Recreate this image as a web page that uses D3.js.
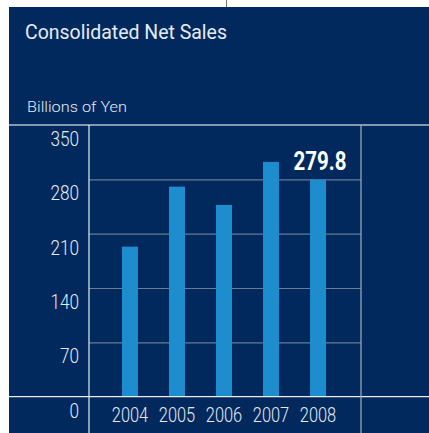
<!DOCTYPE html>
<html>
<head>
<meta charset="utf-8">
<script src="https://cdn.jsdelivr.net/npm/d3@7"></script>
<style>
  html, body { margin: 0; padding: 0; background: #ffffff; }
  svg { display: block; }
  text { font-family: Roboto, "Liberation Sans", sans-serif; font-weight: 300; }
</style>
</head>
<body>
<div id="chart"></div>
<script>
// Consolidated net sales, billions of yen
const years = ["2004", "2005", "2006", "2007", "2008"];
const sales = [193.3, 270.6, 247.0, 302.4, 279.8];
const yTicks = [0, 70, 140, 210, 280, 350];
const highlightIndex = 4;
const highlightLabel = "279.8";

const W = 429, H = 433;
const panel = { x: 9, y: 7 };
const plot = { left: 89, right: 361, top: 125, bottom: 396.7 };

const navy = "#01295e";
const barColor = "#1e8dce";
const textColor = "#e6ebf3";
const gridColor = "#6a7a93";

// squeeze text horizontally to give a condensed face
function condense(sel, factor) {
  sel.each(function () {
    const w = this.getComputedTextLength();
    d3.select(this).attr("textLength", w * factor).attr("lengthAdjust", "spacingAndGlyphs");
  });
}

const svg = d3.select("#chart").append("svg")
  .attr("width", W).attr("height", H);

// small marker line above panel
svg.append("line")
  .attr("x1", 226.5).attr("x2", 226.5).attr("y1", 0).attr("y2", panel.y)
  .attr("stroke", "#777").attr("stroke-width", 1);

svg.append("rect")
  .attr("x", panel.x).attr("y", panel.y)
  .attr("width", W - panel.x).attr("height", H - panel.y)
  .attr("fill", navy);

svg.append("text")
  .attr("x", 25).attr("y", 39)
  .attr("fill", textColor)
  .attr("font-size", 20)
  .style("font-weight", 400)
  .attr("textLength", 202).attr("lengthAdjust", "spacingAndGlyphs")
  .text("Consolidated Net Sales");

svg.append("text")
  .attr("x", 27).attr("y", 112)
  .attr("fill", textColor)
  .attr("font-size", 15.5)
  .attr("textLength", 100).attr("lengthAdjust", "spacingAndGlyphs")
  .text("Billions of Yen");

const y = d3.scaleLinear().domain([0, 350]).range([plot.bottom, plot.top]);
const x = d3.scaleBand().domain(years)
  .range([106.5, 341.5]).paddingInner(0.66).paddingOuter(0.33);

// horizontal gridlines inside plot
const yAxis = d3.axisLeft(y).tickValues(yTicks.filter(t => t > 0 && t < 350))
  .tickSize(-(plot.right - plot.left)).tickFormat("");
svg.append("g")
  .attr("transform", `translate(${plot.left},0)`)
  .call(yAxis)
  .call(g => g.select(".domain").remove())
  .call(g => g.selectAll(".tick line").attr("stroke", gridColor).attr("stroke-width", 1.2));

// bars
svg.append("g").selectAll("rect")
  .data(sales)
  .join("rect")
  .attr("x", (d, i) => x(years[i]))
  .attr("width", x.bandwidth())
  .attr("y", d => y(d))
  .attr("height", d => y(0) - y(d))
  .attr("fill", barColor);

// frame lines
svg.append("line")
  .attr("x1", panel.x).attr("x2", W).attr("y1", y(350)).attr("y2", y(350))
  .attr("stroke", "#b3bccb").attr("stroke-width", 1.3);
svg.append("line")
  .attr("x1", panel.x).attr("x2", W).attr("y1", y(0)).attr("y2", y(0))
  .attr("stroke", "#e8edf5").attr("stroke-width", 1.3);
svg.append("line")
  .attr("x1", plot.left).attr("x2", plot.left).attr("y1", plot.top).attr("y2", H)
  .attr("stroke", "#e8edf5").attr("stroke-width", 1.2);
svg.append("line")
  .attr("x1", plot.right).attr("x2", plot.right).attr("y1", plot.top).attr("y2", H)
  .attr("stroke", "#a4aebf").attr("stroke-width", 1.2);

// y tick labels sit in the band below each gridline
svg.append("g").selectAll("text")
  .data(yTicks)
  .join("text")
  .attr("x", 79)
  .attr("y", d => y(d) + 21)
  .attr("text-anchor", "end")
  .attr("fill", textColor)
  .attr("font-size", 20)
  .text(d => d)
  .call(condense, 0.86);

// year labels
const xAxis = d3.axisBottom(x).tickSize(0).tickPadding(0);
svg.append("g")
  .attr("transform", `translate(0,${y(0)})`)
  .call(xAxis)
  .call(g => g.select(".domain").remove())
  .call(g => g.selectAll(".tick text")
    .attr("y", 25).attr("dy", null)
    .attr("fill", textColor)
    .attr("font-size", 20)
    .attr("font-family", "Roboto, 'Liberation Sans', sans-serif")
    .attr("font-weight", 300)
    .call(condense, 0.82));

// value label for latest year
svg.append("text")
  .attr("x", x(years[highlightIndex]) + x.bandwidth() + 20.5)
  .attr("y", y(sales[highlightIndex]) - 9)
  .attr("text-anchor", "end")
  .attr("fill", "#ffffff")
  .attr("font-size", 25)
  .style("font-weight", 700)
  .attr("textLength", 53).attr("lengthAdjust", "spacingAndGlyphs")
  .text(highlightLabel);
</script>
</body>
</html>
